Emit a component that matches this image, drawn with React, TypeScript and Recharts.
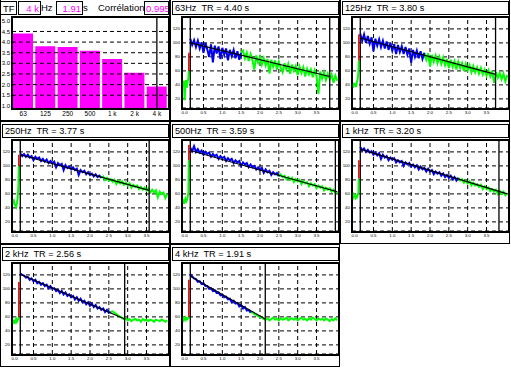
import React from 'react';
import {
  BarChart, Bar, ComposedChart, Line, XAxis, YAxis, CartesianGrid, ReferenceLine,
} from 'recharts';

// reverberation time per octave band
const BANDS = ['63', '125', '250', '500', '1 k', '2 k', '4 k'];
const TR = [4.40, 3.80, 3.77, 3.59, 3.20, 2.56, 1.91];
const TF_TICKS = [1.0, 1.5, 2.0, 2.5, 3.0, 3.5, 4.0, 4.5, 5.0];
const TF_GRID = [1.5, 2.0, 2.5, 3.0, 3.5, 4.0, 4.5];

const DB_TICKS = [20, 40, 60, 80, 100, 120];
const TIME_TICKS = [0, 0.5, 1, 1.5, 2, 2.5, 3, 3.5];

// sample times (s)
const PRE_T = [-0.06, -0.04, -0.02, 0, 0.02, 0.04, 0.06, 0.08, 0.1, 0.11];
const DECAY_T = [
  0.15, 0.2, 0.25, 0.3, 0.35, 0.4, 0.45, 0.5, 0.55, 0.6,
  0.65, 0.7, 0.75, 0.8, 0.85, 0.9, 0.95, 1.0, 1.05, 1.1,
  1.15, 1.2, 1.25, 1.3, 1.35, 1.4, 1.45, 1.5, 1.55, 1.6,
  1.65, 1.7, 1.75, 1.8, 1.85, 1.9, 1.95, 2.0, 2.05, 2.1,
  2.15, 2.2, 2.25, 2.3, 2.35, 2.4, 2.45, 2.5, 2.55, 2.6,
  2.65, 2.7, 2.75, 2.8, 2.85, 2.9, 2.95, 3.0, 3.05, 3.1,
  3.15, 3.2, 3.25, 3.3, 3.35, 3.4, 3.45, 3.5, 3.55, 3.6,
  3.65, 3.7, 3.75, 3.8, 3.85, 3.9, 3.95, 4.0, 4.05,
];

// levels (dB)
const pre63 = [44, 38, 46, 18, 40, 47, 36, 45, 50, 60];
const decay63 = [
  106, 97, 104, 94, 103, 92, 101, 86, 100, 91,
  80, 98, 72, 96, 85, 95, 77, 93, 83, 92,
  75, 90, 81, 90, 78, 88, 76, 86, 89, 78,
  86, 74, 84, 75, 62, 82, 72, 80, 69, 78,
  68, 77, 56, 76, 66, 75, 62, 73, 64, 58,
  71, 62, 70, 56, 69, 60, 67, 54, 66, 57,
  65, 52, 63, 55, 62, 51, 61, 53, 27, 59,
  49, 58, 47, 56, 48, 55, 43, 53, 46,
];
const pre125 = [40, 36, 43, 38, 42, 37, 44, 48, 58, 75];
const decay125 = [
  113, 103, 112, 100, 110, 99, 108, 88, 106, 96,
  105, 94, 103, 92, 102, 90, 100, 89, 98, 84,
  97, 87, 95, 84, 94, 83, 92, 72, 90, 80,
  89, 78, 88, 77, 86, 76, 85, 66, 83, 73,
  82, 71, 80, 70, 79, 68, 77, 64, 76, 66,
  74, 62, 73, 64, 71, 60, 70, 61, 68, 58,
  67, 58, 65, 56, 64, 55, 62, 53, 61, 52,
  60, 43, 58, 50, 57, 48, 56, 45, 54,
];
const pre250 = [52, 48, 50, 45, 43, 41, 46, 54, 70, 100];
const decay250 = [
  118, 114, 117, 113, 116, 112, 114, 108, 113, 110,
  112, 107, 110, 106, 109, 104, 107, 104, 106, 98,
  104, 101, 103, 94, 101, 97, 99, 95, 98, 94,
  96, 87, 94, 91, 93, 88, 91, 87, 89, 85,
  88, 84, 86, 83, 85, 80, 83, 79, 81, 77,
  80, 74, 79, 75, 78, 73, 76, 72, 75, 69,
  73, 70, 72, 67, 70, 66, 69, 65, 68, 62,
  66, 62, 65, 55, 63, 60, 62, 54, 60,
];
const pre500 = [48, 52, 46, 50, 53, 49, 51, 55, 62, 108];
const decay500 = [
  126, 121, 128, 120, 124, 119, 122, 116, 120, 117,
  119, 113, 117, 114, 116, 110, 114, 111, 113, 107,
  111, 108, 110, 104, 108, 105, 107, 100, 105, 102,
  104, 98, 102, 98, 100, 95, 98, 94, 97, 90,
  95, 91, 93, 87, 91, 88, 90, 85, 88, 84,
  86, 81, 84, 80, 83, 77, 81, 78, 80, 74,
  78, 75, 77, 71, 75, 72, 74, 68, 72, 69,
  71, 65, 69, 66, 68, 63, 66, 61, 63,
];
const pre1k = [58, 55, 59, 56, 54, 57, 55, 58, 62, 82];
const decay1k = [
  127, 122, 125, 120, 123, 119, 121, 116, 119, 115,
  118, 110, 116, 112, 114, 108, 112, 109, 111, 105,
  108, 105, 107, 100, 105, 102, 104, 99, 102, 98,
  101, 95, 99, 95, 97, 92, 96, 92, 94, 88,
  92, 89, 91, 86, 89, 84, 87, 83, 86, 81,
  84, 79, 83, 79, 81, 76, 79, 75, 78, 72,
  76, 72, 74, 70, 73, 67, 71, 67, 69, 64,
  67, 63, 66, 60, 64, 60, 63, 58, 61,
];
const pre2k = [55, 51, 56, 50, 54, 57, 53, 55, 58, 60];
const decay2k = [
  122, 120, 119, 116, 117, 113, 115, 111, 113, 108,
  110, 106, 108, 104, 106, 101, 104, 100, 101, 97,
  99, 94, 97, 92, 95, 90, 92, 88, 90, 85,
  88, 83, 86, 81, 83, 78, 81, 76, 79, 74,
  77, 72, 74, 70, 72, 67, 70, 66, 67, 68,
  66, 64, 62, 60, 59, 57, 58, 55, 57, 54,
  56, 57, 55, 56, 53, 57, 55, 56, 54, 56,
  55, 53, 56, 55, 54, 56, 55, 53, 55,
];
const pre4k = [56, 58, 55, 57, 59, 56, 58, 57, 59, 60];
const decay4k = [
  121, 118, 115, 114, 110, 111, 107, 108, 104, 104,
  100, 101, 97, 98, 94, 95, 91, 92, 88, 89,
  85, 86, 81, 83, 79, 80, 75, 77, 72, 74,
  69, 70, 66, 67, 64, 63, 61, 60, 59, 57,
  56, 58, 55, 57, 59, 56, 57, 55, 58, 56,
  57, 59, 55, 57, 58, 56, 58, 55, 57, 59,
  56, 57, 55, 58, 56, 59, 57, 55, 58, 56,
  57, 55, 58, 56, 54, 57, 55, 58, 55,
];

// onset: [from, to] dB of red jump; fit: [t1, dB1, t2, dB2]
const PANELS = [
  { title: '63Hz  TR = 4.40 s', pre: pre63, onset: [60, 86], decay: decay63, split: 1.5, fit: [0.15, 100, 3.85, 52], end: 3.85 },
  { title: '125Hz  TR = 3.80 s', pre: pre125, onset: [75, 112], decay: decay125, split: 1.85, fit: [0.15, 107, 3.74, 55], end: 3.74 },
  { title: '250Hz  TR = 3.77 s', pre: pre250, onset: [100, 116], decay: decay250, split: 2.3, fit: [0.15, 116, 3.57, 65], end: 3.57 },
  { title: '500Hz  TR = 3.59 s', pre: pre500, onset: [108, 130], decay: decay500, split: 2.5, fit: [0.15, 122, 4.05, 63], end: 4.0 },
  { title: '1 kHz  TR = 3.20 s', pre: pre1k, onset: [82, 108], decay: decay1k, split: 2.75, fit: [0.15, 124, 4.05, 60], end: 3.83 },
  { title: '2 kHz  TR = 2.56 s', pre: pre2k, onset: [60, 110], decay: decay2k, split: 2.55, fit: [0.15, 121, 2.92, 57], end: 2.92 },
  { title: '4 kHz  TR = 1.91 s', pre: pre4k, onset: [60, 113], decay: decay4k, split: 1.75, fit: [0.15, 118, 2.14, 57], end: 2.14 },
];

const PW = 170;
const PH = 123;
const FONT = '"Liberation Sans", Arial, sans-serif';

const box: React.CSSProperties = {
  position: 'absolute', border: '1px solid #000', boxSizing: 'border-box',
};

const Shell = (props: { left: number; top: number; children: React.ReactNode }) => (
  <div style={{ position: 'absolute', left: props.left, top: props.top, width: PW, height: PH }}>
    {props.children}
    <div style={{ ...box, border: '2px solid #000', left: 11, top: 18, width: 159, height: 94 }} />
    <div style={{ ...box, left: 0, top: 0, width: PW, height: PH }} />
  </div>
);

const pts = (ts: number[], vs: number[]) => ts.map((t, i) => ({ t, v: vs[i] }));

const DecayPanel = ({ p, left, top }: { p: any; left: number; top: number }) => {
  const decay = pts(DECAY_T, p.decay);
  const blue = decay.filter((d) => d.t <= p.split + 1e-6);
  const green = decay.filter((d) => d.t >= p.split - 1e-6);
  const pre = pts(PRE_T, p.pre);
  const onset = [{ t: 0.11, v: p.onset[0] }, { t: 0.11, v: p.onset[1] }];
  const fit = [{ t: p.fit[0], v: p.fit[1] }, { t: p.fit[2], v: p.fit[3] }];
  const tick = { fontSize: 4.4, fill: '#000', fontFamily: FONT };

  return (
    <Shell left={left} top={top}>
      <ComposedChart width={PW} height={PH} margin={{ top: 19, right: 2, bottom: 0, left: 0 }}>
        <CartesianGrid vertical={false} stroke="#000" strokeDasharray="4 3" />
        <XAxis type="number" dataKey="t" domain={[-0.07, 4.07]} ticks={TIME_TICKS} interval={0}
          allowDataOverflow axisLine={false} tickLine={false} tickSize={0} tickMargin={3} height={13}
          tick={tick} tickFormatter={(v: number) => v.toFixed(1)} />
        <YAxis type="number" domain={[7, 137]} ticks={DB_TICKS} interval={0} allowDataOverflow
          axisLine={false} tickLine={false} tickSize={0} tickMargin={2} width={12} tick={tick} />
        {TIME_TICKS.slice(1).map((t) => (
          <ReferenceLine key={t} x={t} stroke="#000" strokeDasharray="4 3" />
        ))}
        <Line data={pre} dataKey="v" stroke="#00ff00" strokeWidth={2} dot={false} isAnimationActive={false} />
        <Line data={green} dataKey="v" stroke="#00ff00" strokeWidth={2} dot={false} isAnimationActive={false} />
        <Line data={blue} dataKey="v" stroke="#0000f0" strokeWidth={2} dot={false} isAnimationActive={false} />
        <Line data={onset} dataKey="v" stroke="#ff0000" strokeWidth={1.5} dot={false} isAnimationActive={false} />
        <Line data={fit} dataKey="v" stroke="#000" strokeWidth={1.1} dot={false} isAnimationActive={false} />
        <ReferenceLine x={0.15} stroke="#000" strokeWidth={1.3} />
        <ReferenceLine x={p.end} stroke="#000" strokeWidth={1.3} />
      </ComposedChart>
      <div style={{
        ...box, left: 2, top: 3, width: 167, height: 14, fontFamily: FONT, fontSize: 9.2,
        lineHeight: '12px', paddingLeft: 2, whiteSpace: 'pre', color: '#000',
      }}>
        {p.title}
      </div>
    </Shell>
  );
};

const label = (left: number, text: string, extra?: React.CSSProperties) => (
  <div style={{
    position: 'absolute', left, top: 3, height: 14, lineHeight: '13px', fontFamily: FONT,
    fontSize: 9.5, whiteSpace: 'pre', overflow: 'hidden', boxSizing: 'border-box', ...extra,
  }}>
    {text}
  </div>
);

const BarPanel = () => {
  const data = BANDS.map((b, i) => ({ band: b, tr: TR[i] }));
  const tick = { fontSize: 6, fill: '#000', fontFamily: FONT };
  const value = { border: '1px solid #000', color: '#ff00ff', textAlign: 'right' as const, paddingRight: 1 };

  return (
    <Shell left={0} top={-2}>
      <BarChart width={PW} height={PH} data={data} margin={{ top: 19, right: 2, bottom: 0, left: 0 }}
        barCategoryGap={1}>
        <XAxis dataKey="band" interval={0} axisLine={false} tickLine={false} tickSize={0} tickMargin={3}
          height={13} tick={{ ...tick, fontSize: 6.5 }} />
        <YAxis type="number" domain={[0.9, 5.18]} ticks={TF_TICKS} interval={0} allowDataOverflow
          axisLine={false} tickLine={false} tickSize={0} tickMargin={2} width={12} tick={tick}
          tickFormatter={(v: number) => v.toFixed(1)} />
        <Bar dataKey="tr" fill="#ff00ff" isAnimationActive={false} />
        {TF_GRID.map((v) => (
          <ReferenceLine key={v} y={v} stroke="#000" strokeDasharray="4 3" />
        ))}
        <ReferenceLine x="4 k" stroke="#000" strokeWidth={1.3} />
      </BarChart>
      {label(0, 'TF', { width: 17, border: '1px solid #000', paddingLeft: 2 })}
      {label(18, '4 k', { width: 23, ...value })}
      {label(41, 'Hz')}
      {label(56, '1.91', { width: 27, ...value })}
      {label(83, 's')}
      {label(98, 'Corrélation')}
      {label(144, '0.995', { width: 25, ...value, textAlign: 'left', paddingLeft: 1 })}
    </Shell>
  );
};

export default function App() {
  return (
    <div style={{
      position: 'absolute', left: 0, top: 0, width: 511, height: 370, background: '#fff', overflow: 'hidden',
    }}>
      <BarPanel />
      {PANELS.map((p, k) => {
        const cell = k + 1;
        const col = cell % 3;
        const row = Math.floor(cell / 3);
        return <DecayPanel key={p.title} p={p} left={col * PW} top={-2 + row * PH} />;
      })}
    </div>
  );
}
